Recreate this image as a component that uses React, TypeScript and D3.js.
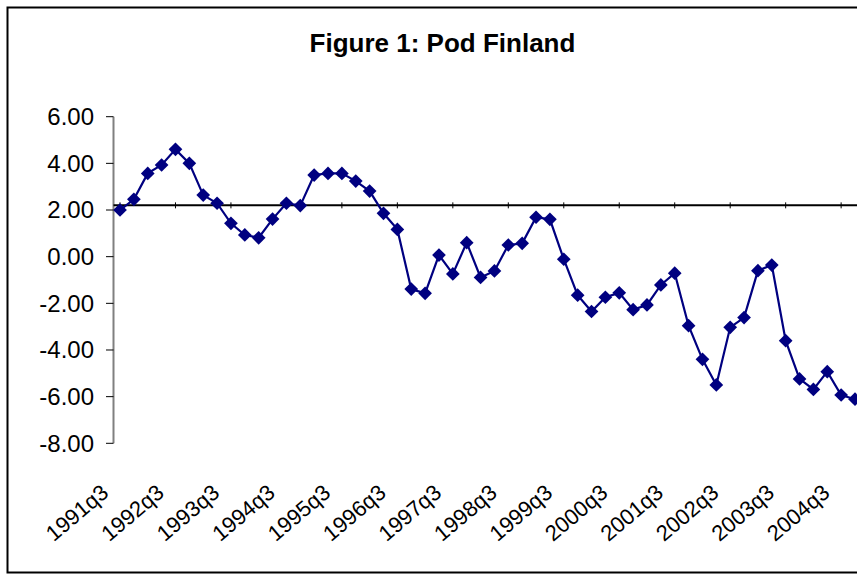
import React from "react";
import * as d3 from "d3";

const title = "Figure 1: Pod Finland";
const startYear = 1991;
const startQuarter = 3;
const values: number[] = [
  2.0, 2.46, 3.57, 3.93, 4.6, 4.0, 2.64, 2.29, 1.43, 0.93,
  0.81, 1.61, 2.29, 2.19, 3.5, 3.57, 3.57, 3.24, 2.81, 1.86,
  1.17, -1.39, -1.57, 0.07, -0.74, 0.6, -0.89, -0.61, 0.5, 0.57,
  1.69, 1.6, -0.11, -1.65, -2.35, -1.74, -1.55, -2.27, -2.07, -1.21,
  -0.71, -2.96, -4.4, -5.5, -3.03, -2.61, -0.6, -0.36, -3.6, -5.24,
  -5.69, -4.93, -5.93, -6.11,
];
const categories: string[] = values.map((_, i) => {
  const q0 = startQuarter - 1 + i;
  return `${startYear + Math.floor(q0 / 4)}q${(q0 % 4) + 1}`;
});
const xTickLabels = [
  "1991q3", "1992q3", "1993q3", "1994q3", "1995q3", "1996q3", "1997q3",
  "1998q3", "1999q3", "2000q3", "2001q3", "2002q3", "2003q3", "2004q3",
];
const yTicks = [6, 4, 2, 0, -2, -4, -6, -8];
const axisCross = [2.2];

const W = 857;
const H = 575;
const FONT = "'Liberation Sans', Arial, sans-serif";

export default function App() {
  const x = d3.scaleLinear().domain([0, 53]).range([120, 855]);
  const y = d3.scaleLinear().domain([-8, 6]).range([443.3, 116.7]);
  const line = d3
    .line<number>()
    .x((_, i) => x(i))
    .y((d) => y(d));
  const diamond = d3.symbol().type(d3.symbolDiamond2).size(120)();
  const axisY = y(axisCross[0]);
  const x0 = 113.5;

  return (
    <svg
      width={W}
      height={H}
      style={{ position: "absolute", left: 0, top: 0, background: "#fff" }}
      fontFamily={FONT}
    >
      <rect x={0} y={0} width={W} height={H} fill="#fff" />
      <rect x={7.5} y={7.5} width={W + 20} height={565} fill="none" stroke="#000" strokeWidth={2} />
      <text x={442.5} y={52} textAnchor="middle" fontWeight="bold" fontSize={26}>
        {title}
      </text>
      {/* y axis */}
      <line x1={x0} x2={x0} y1={y(6)} y2={y(-8)} stroke="#808080" strokeWidth={2} />
      {yTicks.map((t) => (
        <g key={t}>
          <line x1={106} x2={x0} y1={y(t)} y2={y(t)} stroke="#000" strokeWidth={1} />
          <text x={94} y={y(t)} dy="0.35em" textAnchor="end" fontSize={24}>
            {t.toFixed(2)}
          </text>
        </g>
      ))}
      {/* category axis crossing */}
      <line x1={x0} x2={W} y1={axisY} y2={axisY} stroke="#000" strokeWidth={2} />
      {xTickLabels.map((lab) => {
        const i = categories.indexOf(lab);
        const tx = x(i);
        return (
          <g key={lab}>
            <line x1={tx} x2={tx} y1={axisY - 3} y2={axisY + 3} stroke="#000" strokeWidth={1} />
            <text
              transform={`translate(${tx - 10},${495}) rotate(-40)`}
              textAnchor="end"
              fontSize={22}
            >
              {lab}
            </text>
          </g>
        );
      })}
      <path d={line(values) || ""} fill="none" stroke="#000080" strokeWidth={2.2} />
      {values.map((v, i) => (
        <path key={i} d={diamond || ""} transform={`translate(${x(i)},${y(v)})`} fill="#000080" />
      ))}
    </svg>
  );
}
